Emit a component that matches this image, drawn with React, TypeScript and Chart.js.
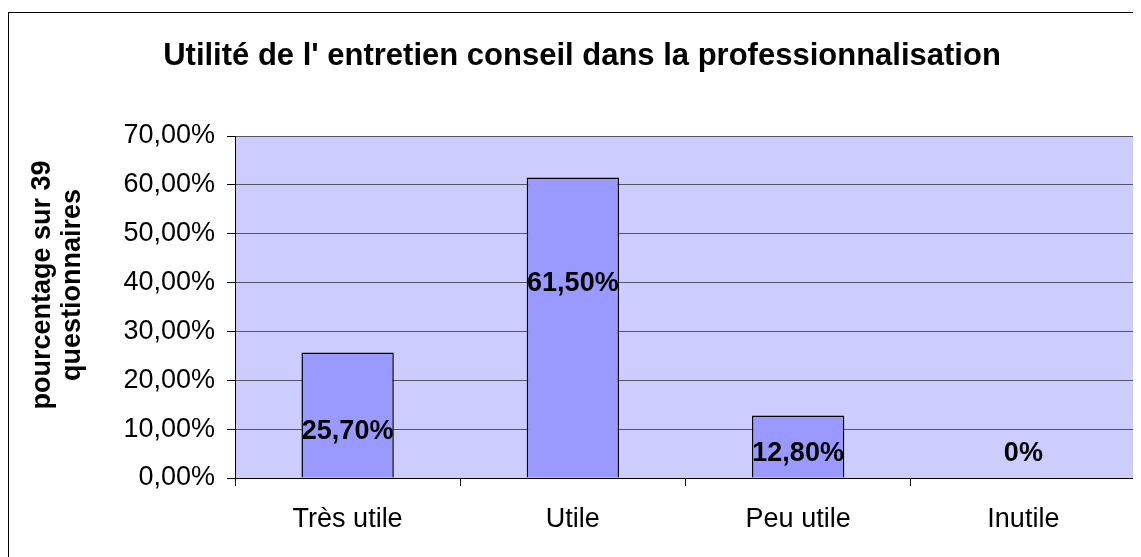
import React, { useEffect, useRef } from 'react';
import { Chart, registerables } from 'chart.js';

Chart.register(...registerables);

const categories = ['Très utile', 'Utile', 'Peu utile', 'Inutile'];
const values = [25.7, 61.5, 12.8, 0];
const valueLabels = ['25,70%', '61,50%', '12,80%', '0%'];
const labelAnchors = [9.6, 39.9, 5.1, 5.1];
const yTickValues = [0, 10, 20, 30, 40, 50, 60, 70];
const titleText = "Utilité de l' entretien conseil dans la professionnalisation";
const yTitleLines = ['pourcentage sur 39', 'questionnaires'];

const FONT = "'Liberation Sans', Arial, sans-serif";

const decor = {
  id: 'decor',
  beforeDraw(chart: any) {
    const { ctx, width, height, chartArea } = chart;
    ctx.save();
    ctx.fillStyle = '#ffffff';
    ctx.fillRect(0, 0, width, height);
    ctx.strokeStyle = '#000';
    ctx.lineWidth = 1;
    ctx.strokeRect(0.5, 4.5, width + 10, height + 10);
    ctx.fillStyle = '#CCCCFF';
    ctx.fillRect(chartArea.left, chartArea.top, chartArea.right - chartArea.left, chartArea.bottom - chartArea.top);
    ctx.restore();
  },
  afterDraw(chart: any) {
    const { ctx, chartArea } = chart;
    const xs = chart.scales.x;
    const ys = chart.scales.y;
    ctx.save();
    ctx.strokeStyle = '#808080';
    ctx.lineWidth = 1;
    ctx.beginPath();
    ctx.moveTo(chartArea.right - 0.5, chartArea.top);
    ctx.lineTo(chartArea.right - 0.5, chartArea.bottom);
    ctx.stroke();
    ctx.fillStyle = '#000';
    ctx.font = `bold 31px ${FONT}`;
    ctx.textAlign = 'center';
    ctx.textBaseline = 'middle';
    ctx.fillText(titleText, 574, 48);
    ctx.font = `bold 27px ${FONT}`;
    ctx.translate(0, 277);
    ctx.rotate(-Math.PI / 2);
    ctx.fillText(yTitleLines[0], 0, 35);
    ctx.fillText(yTitleLines[1], 0, 65);
    ctx.restore();
    ctx.save();
    ctx.fillStyle = '#000';
    ctx.font = `bold 27px ${FONT}`;
    ctx.textAlign = 'center';
    ctx.textBaseline = 'middle';
    valueLabels.forEach((lab, i) => {
      ctx.fillText(lab, xs.getPixelForValue(i), ys.getPixelForValue(labelAnchors[i]));
    });
    ctx.restore();
  },
};

export default function App() {
  const ref = useRef<HTMLCanvasElement>(null);
  useEffect(() => {
    if (!ref.current) return;
    const chart = new Chart(ref.current, {
      type: 'bar',
      data: {
        labels: categories,
        datasets: [
          {
            data: values,
            backgroundColor: '#9999FF',
            borderColor: '#000000',
            borderWidth: 1.5,
            barPercentage: 0.41,
            categoryPercentage: 1,
          },
        ],
      },
      options: {
        responsive: false,
        animation: false,
        layout: { padding: { top: 128, right: 5, left: 0, bottom: 0 } },
        plugins: { legend: { display: false }, tooltip: { enabled: false }, title: { display: false } },
        scales: {
          x: {
            afterFit(scale: any) { scale.height = 79; },
            grid: { offset: true, drawOnChartArea: false, tickLength: 8, color: '#000', tickColor: '#000' },
            border: { color: '#000', width: 1 },
            ticks: { color: '#000', font: { family: FONT, size: 27 }, padding: 17, maxRotation: 0 },
          },
          y: {
            min: 0,
            max: 70,
            afterFit(scale: any) { scale.width = 227; },
            afterBuildTicks(scale: any) { scale.ticks = yTickValues.map((v) => ({ value: v })); },
            grid: { color: '#555566', tickColor: '#000', tickLength: 8, lineWidth: 1 },
            border: { color: '#000', width: 1 },
            ticks: {
              color: '#000',
              font: { family: FONT, size: 27 },
              padding: 12,
              callback: (v: any) => Number(v).toFixed(2).replace('.', ',') + '%',
            },
          },
        },
      },
      plugins: [decor],
    });
    return () => chart.destroy();
  }, []);
  return (
    <div>
      <canvas ref={ref} width={1133} height={549} style={{ display: 'block', width: 1133, height: 549 }} />
    </div>
  );
}
